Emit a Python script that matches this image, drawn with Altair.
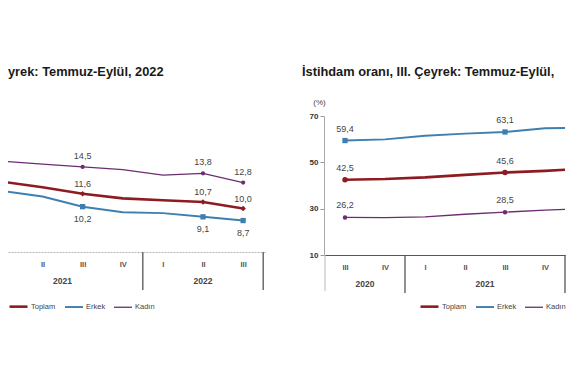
import altair as alt
import pandas as pd

# ---------------- data ----------------
series_names = ["Toplam", "Erkek", "Kadın"]
series_colors = ["#8e1b1f", "#3f7fb0", "#6b2d6f"]
series_widths = [2.6, 1.3, 1.3]

# quarter index: 0 = III 2020, 1 = IV 2020, 2 = I 2021 ... 8 = III 2022
quarter_names = ["III", "IV", "I", "II", "III", "IV", "I", "II", "III"]

# Left panel: İşsizlik oranı (unemployment rate)
u_index = [2, 3, 4, 5, 6, 7, 8]
u_toplam = [12.9, 12.3, 11.6, 11.1, 10.9, 10.7, 10.0]
u_erkek = [11.9, 11.3, 10.2, 9.6, 9.5, 9.1, 8.7]
u_kadin = [15.1, 14.8, 14.5, 14.2, 13.6, 13.8, 12.8]
u_labelled = [4, 7, 8]
u_ticks = [3, 4, 5, 6, 7, 8]
u_years = ["2021", "2022"]
u_year_pos = [3.5, 7.0]
u_seps = [5.5, 8.5]
u_title = "yrek: Temmuz-Eylül, 2022"

# Right panel: İstihdam oranı (employment rate)
e_index = [0, 1, 2, 3, 4, 5, 6]
e_toplam = [42.5, 42.8, 43.5, 44.6, 45.6, 46.3, 47.3]
e_erkek = [59.4, 59.9, 61.5, 62.4, 63.1, 64.7, 64.9]
e_kadin = [26.2, 26.1, 26.5, 27.6, 28.5, 29.4, 30.0]
e_labelled = [0, 4]
e_ticks = [0, 1, 2, 3, 4, 5]
e_yticks = [10, 30, 50, 70]
e_years = ["2020", "2021"]
e_year_pos = [0.5, 3.5]
e_seps = [1.5, 5.5]
e_axis_ext = [-0.5]
e_title = "İstihdam oranı, III. Çeyrek: Temmuz-Eylül, 2022"


def to_long(idx, tot, erk, kad, labelled):
    rows = []
    for name, vals in zip(series_names, [tot, erk, kad]):
        for i, v in zip(idx, vals):
            lab = i in labelled
            rows.append({"idx": i, "series": name, "value": v, "labelled": lab,
                         "label": f"{v:.1f}".replace(".", ",") if lab else ""})
    return pd.DataFrame(rows)


u_df = to_long(u_index, u_toplam, u_erkek, u_kadin, u_labelled)
e_df = to_long(e_index, e_toplam, e_erkek, e_kadin, e_labelled)

label_expr = "[" + ",".join(f"'{q}'" for q in quarter_names) + "][datum.value]"
color_scale = alt.Scale(domain=series_names, range=series_colors)
width_scale = alt.Scale(domain=series_names, range=series_widths)
FONT = "Liberation Sans"
NO_BORDER = alt.ViewBackground(strokeWidth=0, strokeOpacity=0)


def panel(df, x_dom, y_dom, w, h, ticks, x_axis_style, y_axis, years, year_pos,
          seps, title, title_x, title_limit, label_dy, shapes, sizes, legend_x,
          extra_rules=None):
    X = alt.X("idx:Q", scale=alt.Scale(domain=x_dom, nice=False, zero=False),
              axis=alt.Axis(values=ticks, labelExpr=label_expr, title=None, grid=False,
                            ticks=False, labelFlush=False, labelFontSize=7.5,
                            labelFontWeight="bold", labelColor="#555", labelPadding=8,
                            **x_axis_style))
    Y = alt.Y("value:Q", scale=alt.Scale(domain=y_dom, nice=False, zero=False), axis=y_axis)
    base = alt.Chart(df).encode(x=X, y=Y)
    line = base.mark_line(clip=True).encode(
        color=alt.Color("series:N", scale=color_scale, sort=series_names,
                        legend=alt.Legend(orient="none", legendX=legend_x, legendY=180,
                                          direction="horizontal", title=None, padding=0,
                                          symbolType="stroke", symbolSize=324,
                                          symbolStrokeWidth=2, labelFontSize=7.5,
                                          labelColor="#444", labelOffset=2,
                                          columnPadding=5)),
        strokeWidth=alt.StrokeWidth("series:N", scale=width_scale, legend=None),
        order="idx:Q",
    )
    layers = [line]
    for s, col, sh, sz, dy in zip(series_names, series_colors, shapes, sizes, label_dy):
        sub = base.transform_filter(f"datum.series == '{s}' && datum.labelled")
        layers.append(sub.mark_point(filled=True, shape=sh, size=sz, color=col,
                                     opacity=1, clip=True))
        layers.append(sub.mark_text(dy=dy, fontSize=9, color="#444", clip=True)
                      .encode(text="label:N"))
    yr = pd.DataFrame({"idx": year_pos, "year": years})
    layers.append(alt.Chart(yr).mark_text(fontSize=8.5, fontWeight="bold", color="#444")
                  .encode(x=X, y=alt.value(h + 29), text="year:N"))
    sp = pd.DataFrame({"idx": seps})
    layers.append(alt.Chart(sp).mark_rule(color="#555", strokeWidth=1.3)
                  .encode(x=X, y=alt.value(h), y2=alt.value(h + 38)))
    if extra_rules:
        ep = pd.DataFrame({"idx": extra_rules})
        layers.append(alt.Chart(ep).mark_rule(color="#bbb", strokeWidth=1)
                      .encode(x=X, y=alt.value(h), y2=alt.value(h + 36)))
    td = pd.DataFrame({"t": [title]})
    txt_kw = dict(align="left", baseline="middle", fontSize=12.8, fontWeight="bold",
                  color="#1a1a1a")
    if title_limit:
        txt_kw.update(limit=title_limit, ellipsis=" ")
    layers.append(alt.Chart(td).mark_text(**txt_kw)
                  .encode(x=alt.value(title_x), y=alt.value(-44), text="t:N"))
    return alt.layer(*layers).properties(width=w, height=h, view=NO_BORDER)


left = panel(
    u_df, [2.14, 8.57], [5.3, 20], 258, 136, u_ticks,
    dict(domainColor="#b5b5b5", domainDash=[2, 1], domainWidth=1),
    None, u_years, u_year_pos, u_seps, u_title, 0, None,
    [-10, 12, -11], ["diamond", "square", "circle"], [30, 28, 18], 0,
)

right_y_axis = alt.Axis(values=e_yticks, title="(%)", titleAngle=0, titleX=-5, titleY=-10,
                        titleAlign="center", titleBaseline="bottom", titleFontSize=8,
                        titleFontWeight="normal", titleColor="#444", grid=False,
                        tickSize=4, tickColor="#999", domainColor="#aaa",
                        labelFontSize=8, labelFontWeight="bold", labelColor="#333",
                        labelPadding=2)

right = panel(
    e_df, [-0.525, 5.5], [10, 70], 241, 139, e_ticks,
    dict(domainColor="#555", domainWidth=1.2),
    right_y_axis, e_years, e_year_pos, e_seps, e_title, -22, 263,
    [-12, -12, -12], ["circle", "square", "circle"], [30, 28, 20], 95,
    extra_rules=e_axis_ext,
)

chart = (
    alt.hconcat(left, right, spacing=36)
    .resolve_scale(color="independent", x="independent", y="independent",
                   strokeWidth="independent")
    .resolve_legend(color="independent")
    .properties(padding={"left": 0, "top": 58, "right": 0, "bottom": 5})
    .configure_view(strokeWidth=0, strokeOpacity=0)
    .configure(font=FONT)
)

chart.save("out.html", embed_options={"renderer": "svg", "actions": False})
